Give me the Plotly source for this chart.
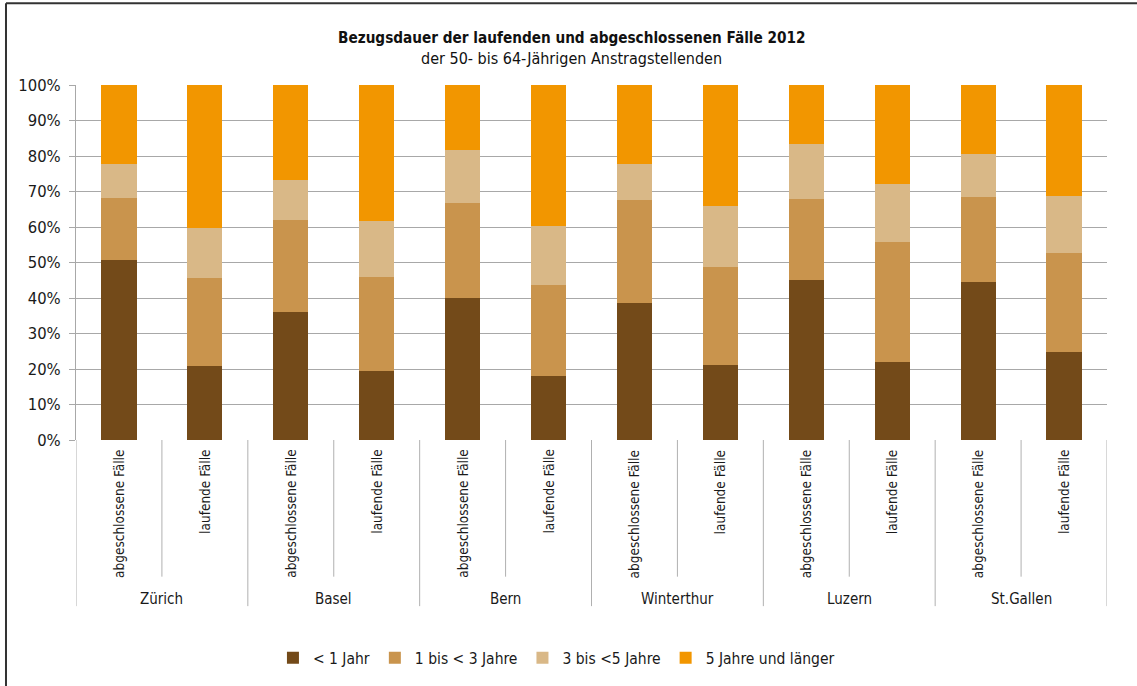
import plotly.graph_objects as go

cities = ["Zürich", "Basel", "Bern", "Winterthur", "Luzern", "St.Gallen"]
case_types = ["abgeschlossene Fälle", "laufende Fälle"]
series_names = ["< 1 Jahr", "1 bis < 3 Jahre", "3 bis <5 Jahre", "5 Jahre und länger"]

# values in % per bar (order: city × case type)
lt1 = [50.8, 20.8, 36.0, 19.4, 39.9, 18.0, 38.5, 21.1, 45.2, 21.9, 44.4, 24.7]
y1to3 = [17.5, 24.7, 26.1, 26.4, 27.0, 25.8, 29.2, 27.5, 22.8, 34.0, 24.1, 28.1]
y3to5 = [9.5, 14.1, 11.2, 16.0, 14.8, 16.6, 10.1, 17.4, 15.4, 16.3, 12.1, 16.0]
ge5 = [22.2, 40.4, 26.7, 38.2, 18.3, 39.6, 22.2, 34.0, 16.6, 27.8, 19.4, 31.2]

colors = ["#734A19", "#C9944D", "#D9B887", "#F29600"]
FONT = "DejaVu Sans Condensed, Liberation Sans Narrow, sans-serif"
TXT = "#1a1a1a"

cats = [f"{c} | {t}" for c in cities for t in case_types]
inner = [t for c in cities for t in case_types]

fig = go.Figure()
for name, vals, col in zip(series_names, [lt1, y1to3, y3to5, ge5], colors):
    fig.add_trace(go.Bar(x=cats, y=vals, name=name, marker=dict(color=col, line=dict(width=0))))

annotations = []
shapes = []
# inner rotated labels
for cat, lab in zip(cats, inner):
    annotations.append(dict(x=cat, y=0, xref="x", yref="y", text=lab, showarrow=False,
                            textangle=-90, xanchor="center", yanchor="top", yshift=-8,
                            font=dict(family=FONT, size=13.5, color=TXT)))
# group labels
for i, c in enumerate(cities):
    annotations.append(dict(x=2 * i + 0.5, y=-0.448, xref="x", yref="paper", text=c, showarrow=False,
                            xanchor="center", yanchor="middle",
                            font=dict(family=FONT, size=15, color=TXT)))
# separators
for k in range(13):
    xpos = k - 0.5
    ylow = -0.468 if k % 2 == 0 else -0.385
    shapes.append(dict(type="line", xref="x", yref="paper", x0=xpos, x1=xpos, y0=0, y1=ylow,
                       line=dict(color="#B0B0B0", width=1)))
# outer frame (top and left)
shapes.append(dict(type="line", xref="paper", yref="paper", x0=-0.0679, x1=1.05, y0=1.2303, y1=1.2303,
                   line=dict(color="#333333", width=2)))
shapes.append(dict(type="line", xref="paper", yref="paper", x0=-0.0679, x1=-0.0679, y0=1.2303, y1=-0.7,
                   line=dict(color="#333333", width=2)))

annotations.append(dict(x=0.481, y=1.131, xref="paper", yref="paper", showarrow=False,
                        xanchor="center", yanchor="middle",
                        text="<b>Bezugsdauer der laufenden und abgeschlossenen Fälle 2012</b>",
                        font=dict(family=FONT, size=15.2, color="#111111")))
annotations.append(dict(x=0.481, y=1.075, xref="paper", yref="paper", showarrow=False,
                        xanchor="center", yanchor="middle",
                        text="der 50- bis 64-Jährigen Anstragstellenden",
                        font=dict(family=FONT, size=16, color="#111111")))

fig.update_layout(
    width=1137, height=686,
    margin=dict(l=76, r=30, t=85, b=245),
    barmode="stack", bargap=0.59,
    paper_bgcolor="white", plot_bgcolor="white",
    font=dict(family=FONT, size=15, color=TXT),
    showlegend=True,
    legend=dict(orientation="h", x=0.466, xanchor="center", y=-0.61, yanchor="middle",
                font=dict(family=FONT, size=15.5), itemclick=False, traceorder="normal",
                itemwidth=30),
    annotations=annotations, shapes=shapes,
)
fig.update_xaxes(type="category", showticklabels=False, showgrid=False, zeroline=False,
                 showline=False, ticks="", range=[-0.5, 11.5])
fig.update_yaxes(range=[0, 100], tickvals=list(range(0, 101, 10)),
                 ticktext=[f"{v}%" for v in range(0, 101, 10)],
                 showgrid=True, gridcolor="#A8A8A8", gridwidth=1, zeroline=False,
                 showline=True, linecolor="#A8A8A8", linewidth=1,
                 ticks="outside", ticklen=6, tickcolor="#A8A8A8", ticklabelstandoff=5,
                 tickfont=dict(family=FONT, size=16.5, color=TXT))

fig.write_html("out.html", config={"displayModeBar": False},
               post_script="document.body.style.margin='0';")
